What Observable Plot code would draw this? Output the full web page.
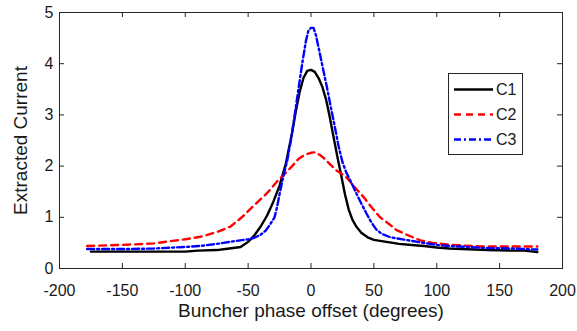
<!DOCTYPE html>
<html><head><meta charset="utf-8">
<script src="https://cdn.jsdelivr.net/npm/d3@7"></script>
<script src="https://cdn.jsdelivr.net/npm/@observablehq/plot@0.6"></script>
<style>
body{margin:0;background:#fff;}
#wrap{position:relative;width:577px;height:331px;font-family:"Liberation Sans",Arial,Helvetica,sans-serif;}
#legend{position:absolute;left:448px;top:73px;}
</style></head><body><div id="wrap"><div id="legend"></div></div>
<script>
const seriesNames = ["C1", "C2", "C3"];
const seriesColors = ["#000000", "#ff0000", "#0000ff"];
const seriesDash = [null, "7,5", "7,3,2,3"];

const c1Phase = [-175,-150,-125,-100,-90,-75,-65,-56,-50,-45,-40,-35,-30,-25,-20,-15,-12,-9,-6,-3,0,3,6,9,12,15,18,21,24,27,30,33,36,40,45,50,60,70,80,90,100,110,120,140,160,170,180];
const c1Current = [0.33,0.33,0.33,0.33,0.35,0.36,0.39,0.42,0.52,0.65,0.82,1.03,1.3,1.62,2.05,2.65,3.08,3.45,3.72,3.86,3.88,3.84,3.72,3.55,3.3,2.95,2.56,2.18,1.82,1.45,1.15,0.95,0.82,0.70,0.61,0.56,0.52,0.48,0.46,0.44,0.41,0.39,0.38,0.36,0.35,0.35,0.32];

const c2Phase = [-178,-150,-125,-110,-100,-88,-75,-64,-55,-45,-35,-27,-20,-15,-10,-5,0,3,7,11,15,20,25,29,35,42,48,55,62,68,78,87,97,108,120,135,150,165,180];
const c2Current = [0.44,0.46,0.49,0.54,0.57,0.62,0.71,0.82,1.0,1.24,1.47,1.7,1.87,2.0,2.14,2.22,2.26,2.27,2.22,2.14,2.04,1.92,1.84,1.76,1.58,1.39,1.2,1.0,0.87,0.75,0.64,0.55,0.50,0.47,0.45,0.43,0.43,0.43,0.43];

const c3Phase = [-178,-150,-125,-100,-88,-75,-62,-50,-45,-40,-36,-32,-29,-27,-25,-22,-19,-16,-13,-10,-7,-4,-2,0,2,4,7,10,13,16,19,22,25,28,32,36,40,44,48,52,56,63,75,87,100,110,125,140,160,180];
const c3Current = [0.38,0.38,0.39,0.42,0.44,0.48,0.53,0.57,0.60,0.66,0.74,0.88,1.0,1.2,1.45,1.8,2.1,2.5,3.0,3.5,4.0,4.45,4.65,4.70,4.70,4.55,4.2,3.85,3.5,3.12,2.76,2.38,2.08,1.88,1.68,1.47,1.27,1.08,0.9,0.76,0.68,0.61,0.56,0.51,0.46,0.44,0.42,0.40,0.39,0.37];

const xTicks = [-200,-150,-100,-50,0,50,100,150,200];
const yTicks = [0,1,2,3,4,5];
const xLabel = "Buncher phase offset (degrees)";
const yLabel = "Extracted Current";

const phases = [c1Phase, c2Phase, c3Phase];
const currents = [c1Current, c2Current, c3Current];

const W = 577, H = 331;
const mL = 59, mR = 15, mT = 12, mB = 63;
const fw = W - mL - mR, fh = H - mT - mB;
const tickLen = 5;
const axisColor = "#262626";
const fmt = d => String(d);

const lineMarks = seriesNames.map((name, i) => {
  const rows = phases[i].map((p, j) => ({phase: p, current: currents[i][j]}));
  const opts = {x: "phase", y: "current", stroke: seriesColors[i], strokeWidth: 2.4, curve: "linear"};
  if (seriesDash[i]) opts.strokeDasharray = seriesDash[i];
  return Plot.line(rows, opts);
});

const chart = Plot.plot({
  width: W, height: H,
  marginLeft: mL, marginRight: mR, marginTop: mT, marginBottom: mB,
  style: {fontFamily: "'Liberation Sans', Arial, Helvetica, sans-serif", color: "#1a1a1a", background: "#fff"},
  x: {domain: [-200, 200]},
  y: {domain: [0, 5]},
  marks: [
    ...lineMarks,
    Plot.frame({stroke: axisColor, strokeWidth: 1}),
    Plot.tickX(xTicks, {x: d => d, insetTop: fh - tickLen, stroke: axisColor}),
    Plot.tickX(xTicks, {x: d => d, insetBottom: fh - tickLen, stroke: axisColor}),
    Plot.tickY(yTicks, {y: d => d, insetRight: fw - tickLen, stroke: axisColor}),
    Plot.tickY(yTicks, {y: d => d, insetLeft: fw - tickLen, stroke: axisColor}),
    Plot.axisX(xTicks, {tickSize: 0, tickPadding: 16, fontSize: 16, label: null, tickFormat: fmt}),
    Plot.axisY(yTicks, {tickSize: 0, tickPadding: 6, fontSize: 16, label: null, tickFormat: fmt}),
    Plot.text([xLabel], {text: d => d, frameAnchor: "bottom", dy: 48, fontSize: 19, fill: "#1a1a1a"}),
    Plot.text([yLabel], {text: d => d, frameAnchor: "left", textAnchor: "middle", dx: -39, rotate: -90, fontSize: 19, fill: "#1a1a1a"})
  ]
});
document.getElementById("wrap").prepend(chart);

// legend
const lw = 74, lh = 81;
const lsvg = d3.select("#legend").append("svg").attr("width", lw + 1).attr("height", lh + 1);
lsvg.append("rect").attr("x", 0.5).attr("y", 0.5).attr("width", lw).attr("height", lh)
  .attr("fill", "#fff").attr("stroke", axisColor).attr("stroke-width", 1);
seriesNames.forEach((name, i) => {
  const cy = 16.5 + i * 25;
  const l = lsvg.append("line").attr("x1", 6).attr("x2", 45).attr("y1", cy).attr("y2", cy)
    .attr("stroke", seriesColors[i]).attr("stroke-width", 2.4);
  if (seriesDash[i]) l.attr("stroke-dasharray", seriesDash[i]);
  lsvg.append("text").attr("x", 48).attr("y", cy).attr("dy", "0.36em")
    .attr("font-size", 16).attr("fill", "#1a1a1a")
    .attr("font-family", "'Liberation Sans', Arial, Helvetica, sans-serif").text(name);
});
</script></body></html>
